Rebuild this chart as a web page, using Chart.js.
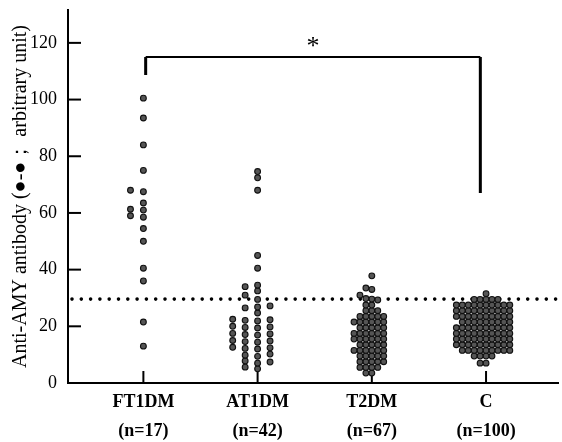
<!DOCTYPE html>
<html lang="en">
<head>
<meta charset="UTF-8">
<title>Anti-AMY antibody</title>
<script src="https://cdn.jsdelivr.net/npm/chart.js@4"></script>
<style>
    body { margin: 0; background: #fff; }
    canvas { display: block; }
</style>
</head>
<body>
<canvas id="dotChart" width="562" height="442"></canvas>
<script>
// data
const groups = ['FT1DM', 'AT1DM', 'T2DM', 'C'];
const groupN = ['(n=17)', '(n=42)', '(n=67)', '(n=100)'];

const ft1dm = [100.5, 93.5, 84, 75, 68, 67.5, 63.5, 61.3, 61, 59, 58.5, 54.5, 50, 40.5, 36, 21.5, 13];

const at1dm = [5, 5.6, 7, 7.4, 7.8, 9.4, 9.8, 10.2,
    12, 12.2, 12.4, 12.6, 14.4, 14.6, 14.8, 15, 16.9, 17.1, 17.3, 17.5,
    19.4, 19.6, 19.8, 20, 21.9, 22.1, 22.3, 22.5, 24.7, 26.5, 26.8, 27.2,
    29.5, 31, 32.5, 34, 34.5, 40.5, 45, 68, 72.4, 74.6];

const t2dm = [3.5, 3.5, 5.5, 5.5, 5.5, 5.5, 7.5, 7.5, 7.5, 7.5, 7.5,
    9.5, 9.5, 9.5, 9.5, 9.5, 11.5, 11.5, 11.5, 11.5, 11.5, 11.5,
    13.5, 13.5, 13.5, 13.5, 13.5, 15.5, 15.5, 15.5, 15.5, 15.5, 15.5,
    17.5, 17.5, 17.5, 17.5, 17.5, 17.5, 19.5, 19.5, 19.5, 19.5, 19.5,
    21.5, 21.5, 21.5, 21.5, 21.5, 21.5, 23.5, 23.5, 23.5, 23.5, 23.5,
    25.5, 25.5, 25.5, 27.5, 27.5,
    29.3, 29.6, 29.8, 31, 33, 33.5, 37.8];

const ctrl = [7, 7, 9.5, 9.5, 9.5, 9.5,
    11.5, 11.5, 11.5, 11.5, 11.5, 11.5, 11.5, 11.5, 11.5,
    13.5, 13.5, 13.5, 13.5, 13.5, 13.5, 13.5, 13.5, 13.5, 13.5,
    15.5, 15.5, 15.5, 15.5, 15.5, 15.5, 15.5, 15.5, 15.5, 15.5,
    17.5, 17.5, 17.5, 17.5, 17.5, 17.5, 17.5, 17.5, 17.5, 17.5,
    19.5, 19.5, 19.5, 19.5, 19.5, 19.5, 19.5, 19.5, 19.5, 19.5,
    21.5, 21.5, 21.5, 21.5, 21.5, 21.5, 21.5, 21.5, 21.5,
    23.5, 23.5, 23.5, 23.5, 23.5, 23.5, 23.5, 23.5, 23.5, 23.5,
    25.5, 25.5, 25.5, 25.5, 25.5, 25.5, 25.5, 25.5, 25.5, 25.5,
    27.5, 27.5, 27.5, 27.5, 27.5, 27.5, 27.5, 27.5, 27.5, 27.5,
    29.5, 29.5, 29.5, 29.5, 29.5, 31.5];

const yTicks = [0, 20, 40, 60, 80, 100, 120];
const cutoff = 29.6;
// significance bracket FT1DM vs C: top, left drop, right drop
const bracketLevels = [115, 108.7, 67];
const bracketMark = '*';

// layout of the dot columns (x step per group in axis units)
const colGap = [0.113, 0.109, 0.052, 0.052];
const minGap = 1.9;
const SERIF = "'Liberation Serif', 'Times New Roman', serif";

function swarm(values, center, gap) {
    const last = {};
    const order = [0, -1, 1, -2, 2, -3, 3, -4, 4, -5, 5, -6, 6];
    return values.slice().sort((a, b) => a - b).map(v => {
        for (const s of order) {
            if (last[s] === undefined || v - last[s] >= minGap) {
                last[s] = v;
                return { x: center + s * gap, y: v };
            }
        }
        return { x: center, y: v };
    });
}

const series = [ft1dm, at1dm, t2dm, ctrl];

const extras = {
    id: 'extras',
    beforeDatasetsDraw(chart) {
        const { ctx, chartArea, scales: { x, y } } = chart;
        ctx.save();
        // dotted cut-off line
        const yc = y.getPixelForValue(cutoff);
        ctx.strokeStyle = '#000';
        ctx.lineWidth = 3.6;
        ctx.lineCap = 'round';
        ctx.setLineDash([0, 9.3]);
        ctx.beginPath();
        ctx.moveTo(chartArea.left + 4, yc);
        ctx.lineTo(chartArea.right, yc);
        ctx.stroke();
        ctx.setLineDash([]);
        ctx.lineCap = 'butt';
        // inner tick marks
        ctx.lineWidth = 2;
        yTicks.forEach(v => {
            const py = y.getPixelForValue(v);
            ctx.beginPath();
            ctx.moveTo(chartArea.left, py);
            ctx.lineTo(chartArea.left + 13, py);
            ctx.stroke();
        });
        groups.forEach((g, i) => {
            const px = x.getPixelForValue(i + 1);
            ctx.beginPath();
            ctx.moveTo(px, chartArea.bottom);
            ctx.lineTo(px, chartArea.bottom - 12);
            ctx.stroke();
        });
        ctx.restore();
    },
    afterDatasetsDraw(chart) {
        const { ctx, scales: { x, y } } = chart;
        const x1 = x.getPixelForValue(1.02);
        const x2 = x.getPixelForValue(3.95);
        const yTop = y.getPixelForValue(bracketLevels[0]);
        ctx.save();
        ctx.strokeStyle = '#000';
        ctx.lineWidth = 2;
        ctx.beginPath();
        ctx.moveTo(x1, yTop);
        ctx.lineTo(x2, yTop);
        ctx.stroke();
        ctx.lineWidth = 3;
        ctx.beginPath();
        ctx.moveTo(x1, yTop);
        ctx.lineTo(x1, y.getPixelForValue(bracketLevels[1]));
        ctx.moveTo(x2, yTop);
        ctx.lineTo(x2, y.getPixelForValue(bracketLevels[2]));
        ctx.stroke();
        ctx.fillStyle = '#000';
        ctx.font = '26px ' + SERIF;
        ctx.textAlign = 'center';
        ctx.textBaseline = 'alphabetic';
        ctx.fillText(bracketMark, (x1 + x2) / 2, yTop - 3);
        ctx.restore();
    }
};

new Chart(document.getElementById('dotChart'), {
    type: 'scatter',
    data: {
        datasets: series.map((vals, i) => ({
            label: groups[i],
            data: swarm(vals, i + 1, colGap[i]),
            pointRadius: 2.9,
            pointBorderWidth: 1.1,
            backgroundColor: '#555555',
            borderColor: '#111111',
            pointHoverRadius: 2.9
        }))
    },
    options: {
        responsive: false,
        animation: false,
        devicePixelRatio: 1,
        layout: { padding: { left: 0, right: 2, top: 10, bottom: 0 } },
        plugins: {
            legend: { display: false },
            tooltip: { enabled: false }
        },
        scales: {
            x: {
                type: 'linear',
                min: 0.34,
                max: 4.63,
                grid: { display: false, drawTicks: false },
                border: { display: true, color: '#000', width: 2 },
                afterBuildTicks: s => { s.ticks = groups.map((g, i) => ({ value: i + 1 })); },
                afterFit: s => { s.height = 59; s.paddingLeft = 0; s.paddingRight = 0; },
                ticks: {
                    autoSkip: false,
                    maxRotation: 0,
                    padding: 5,
                    color: '#000',
                    font: { family: SERIF, size: 18, weight: 'bold', lineHeight: 1.6 },
                    callback: (v, i) => [groups[i], groupN[i]]
                }
            },
            y: {
                min: 0,
                max: 131.6,
                grid: { display: false, drawTicks: false },
                border: { display: true, color: '#000', width: 2 },
                afterBuildTicks: s => { s.ticks = yTicks.map(v => ({ value: v })); },
                afterFit: s => { s.width = 68; s.paddingTop = 0; s.paddingBottom = 0; },
                ticks: {
                    padding: 11,
                    color: '#000',
                    font: { family: SERIF, size: 18 }
                },
                title: {
                    display: true,
                    text: 'Anti-AMY antibody (\u25CF-\u25CF\uFF1B arbitrary unit)',
                    color: '#000',
                    font: { family: SERIF, size: 20 },
                    padding: { top: 9, bottom: 0 }
                }
            }
        }
    },
    plugins: [extras]
});
</script>
</body>
</html>
